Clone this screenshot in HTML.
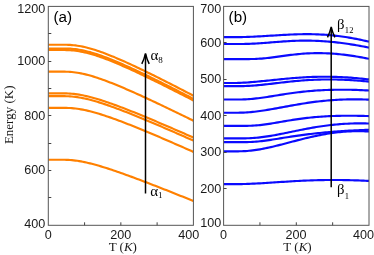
<!DOCTYPE html><html><head><meta charset="utf-8"><style>html,body{margin:0;padding:0;background:#fff}svg{display:block;will-change:transform;opacity:0.999}</style></head><body><svg width="374" height="255" viewBox="0 0 374 255">
<rect width="374" height="255" fill="#fff"/>
<defs><clipPath id="cl"><rect x="48.3" y="6.4" width="145.10000000000002" height="218.9"/></clipPath><clipPath id="cr"><rect x="223.6" y="6.4" width="145.4" height="218.9"/></clipPath></defs>
<g fill="none" stroke="#ff8000" stroke-width="2.15" clip-path="url(#cl)">
<path d="M48.30,44.70 L50.11,44.70 L51.93,44.70 L53.74,44.70 L55.55,44.70 L57.37,44.70 L59.18,44.70 L61.00,44.70 L62.81,44.71 L64.62,44.74 L66.44,44.78 L68.25,44.84 L70.06,44.94 L71.88,45.07 L73.69,45.24 L75.51,45.44 L77.32,45.69 L79.13,45.97 L80.95,46.30 L82.76,46.66 L84.58,47.06 L86.39,47.49 L88.20,47.95 L90.02,48.45 L91.83,48.97 L93.64,49.52 L95.46,50.09 L97.27,50.69 L99.09,51.31 L100.90,51.94 L102.71,52.60 L104.53,53.28 L106.34,53.97 L108.15,54.67 L109.97,55.39 L111.78,56.13 L113.59,56.87 L115.41,57.63 L117.22,58.40 L119.04,59.18 L120.85,59.97 L122.66,60.77 L124.48,61.58 L126.29,62.39 L128.11,63.21 L129.92,64.05 L131.73,64.88 L133.55,65.73 L135.36,66.57 L137.17,67.43 L138.99,68.29 L140.80,69.16 L142.62,70.03 L144.43,70.90 L146.24,71.78 L148.06,72.67 L149.87,73.55 L151.68,74.45 L153.50,75.34 L155.31,76.24 L157.12,77.14 L158.94,78.05 L160.75,78.96 L162.57,79.87 L164.38,80.78 L166.19,81.70 L168.01,82.62 L169.82,83.54 L171.63,84.46 L173.45,85.39 L175.26,86.32 L177.08,87.25 L178.89,88.18 L180.70,89.11 L182.52,90.05 L184.33,90.99 L186.15,91.93 L187.96,92.87 L189.77,93.81 L191.59,94.75 L193.40,95.70"/>
<path d="M48.30,48.45 L50.11,48.45 L51.93,48.45 L53.74,48.45 L55.55,48.45 L57.37,48.45 L59.18,48.45 L61.00,48.45 L62.81,48.46 L64.62,48.49 L66.44,48.53 L68.25,48.59 L70.06,48.68 L71.88,48.81 L73.69,48.98 L75.51,49.18 L77.32,49.43 L79.13,49.71 L80.95,50.03 L82.76,50.39 L84.58,50.78 L86.39,51.21 L88.20,51.67 L90.02,52.15 L91.83,52.67 L93.64,53.21 L95.46,53.78 L97.27,54.37 L99.09,54.98 L100.90,55.61 L102.71,56.26 L104.53,56.92 L106.34,57.61 L108.15,58.31 L109.97,59.02 L111.78,59.74 L113.59,60.48 L115.41,61.23 L117.22,61.99 L119.04,62.76 L120.85,63.54 L122.66,64.33 L124.48,65.13 L126.29,65.93 L128.11,66.75 L129.92,67.57 L131.73,68.39 L133.55,69.23 L135.36,70.07 L137.17,70.91 L138.99,71.76 L140.80,72.62 L142.62,73.48 L144.43,74.34 L146.24,75.21 L148.06,76.09 L149.87,76.96 L151.68,77.85 L153.50,78.73 L155.31,79.62 L157.12,80.51 L158.94,81.40 L160.75,82.30 L162.57,83.20 L164.38,84.11 L166.19,85.01 L168.01,85.92 L169.82,86.83 L171.63,87.74 L173.45,88.66 L175.26,89.58 L177.08,90.50 L178.89,91.42 L180.70,92.34 L182.52,93.27 L184.33,94.19 L186.15,95.12 L187.96,96.05 L189.77,96.98 L191.59,97.92 L193.40,98.85"/>
<path d="M48.30,50.00 L50.11,50.00 L51.93,50.00 L53.74,50.00 L55.55,50.00 L57.37,50.00 L59.18,50.00 L61.00,50.00 L62.81,50.01 L64.62,50.04 L66.44,50.08 L68.25,50.14 L70.06,50.23 L71.88,50.36 L73.69,50.53 L75.51,50.73 L77.32,50.98 L79.13,51.26 L80.95,51.58 L82.76,51.94 L84.58,52.33 L86.39,52.76 L88.20,53.22 L90.02,53.71 L91.83,54.22 L93.64,54.77 L95.46,55.33 L97.27,55.92 L99.09,56.53 L100.90,57.17 L102.71,57.82 L104.53,58.48 L106.34,59.17 L108.15,59.87 L109.97,60.58 L111.78,61.30 L113.59,62.04 L115.41,62.79 L117.22,63.55 L119.04,64.33 L120.85,65.11 L122.66,65.90 L124.48,66.69 L126.29,67.50 L128.11,68.32 L129.92,69.14 L131.73,69.96 L133.55,70.80 L135.36,71.64 L137.17,72.48 L138.99,73.34 L140.80,74.19 L142.62,75.05 L144.43,75.92 L146.24,76.79 L148.06,77.66 L149.87,78.54 L151.68,79.42 L153.50,80.31 L155.31,81.20 L157.12,82.09 L158.94,82.99 L160.75,83.89 L162.57,84.79 L164.38,85.69 L166.19,86.60 L168.01,87.51 L169.82,88.42 L171.63,89.33 L173.45,90.25 L175.26,91.17 L177.08,92.09 L178.89,93.01 L180.70,93.93 L182.52,94.86 L184.33,95.79 L186.15,96.72 L187.96,97.65 L189.77,98.58 L191.59,99.51 L193.40,100.45"/>
<path d="M48.30,71.60 L50.11,71.60 L51.93,71.60 L53.74,71.60 L55.55,71.60 L57.37,71.60 L59.18,71.60 L61.00,71.61 L62.81,71.62 L64.62,71.65 L66.44,71.70 L68.25,71.78 L70.06,71.89 L71.88,72.04 L73.69,72.23 L75.51,72.46 L77.32,72.72 L79.13,73.03 L80.95,73.37 L82.76,73.75 L84.58,74.16 L86.39,74.60 L88.20,75.07 L90.02,75.57 L91.83,76.09 L93.64,76.64 L95.46,77.21 L97.27,77.80 L99.09,78.41 L100.90,79.04 L102.71,79.68 L104.53,80.34 L106.34,81.02 L108.15,81.71 L109.97,82.41 L111.78,83.12 L113.59,83.84 L115.41,84.57 L117.22,85.31 L119.04,86.06 L120.85,86.82 L122.66,87.59 L124.48,88.36 L126.29,89.14 L128.11,89.93 L129.92,90.73 L131.73,91.52 L133.55,92.33 L135.36,93.14 L137.17,93.95 L138.99,94.77 L140.80,95.60 L142.62,96.43 L144.43,97.26 L146.24,98.09 L148.06,98.93 L149.87,99.78 L151.68,100.62 L153.50,101.47 L155.31,102.32 L157.12,103.18 L158.94,104.03 L160.75,104.89 L162.57,105.76 L164.38,106.62 L166.19,107.49 L168.01,108.36 L169.82,109.23 L171.63,110.10 L173.45,110.97 L175.26,111.85 L177.08,112.73 L178.89,113.61 L180.70,114.49 L182.52,115.37 L184.33,116.26 L186.15,117.14 L187.96,118.03 L189.77,118.92 L191.59,119.81 L193.40,120.70"/>
<path d="M48.30,93.30 L50.11,93.30 L51.93,93.30 L53.74,93.30 L55.55,93.30 L57.37,93.30 L59.18,93.30 L61.00,93.31 L62.81,93.32 L64.62,93.35 L66.44,93.40 L68.25,93.47 L70.06,93.58 L71.88,93.72 L73.69,93.90 L75.51,94.11 L77.32,94.36 L79.13,94.64 L80.95,94.95 L82.76,95.30 L84.58,95.68 L86.39,96.08 L88.20,96.51 L90.02,96.97 L91.83,97.44 L93.64,97.94 L95.46,98.46 L97.27,99.00 L99.09,99.55 L100.90,100.12 L102.71,100.71 L104.53,101.30 L106.34,101.91 L108.15,102.53 L109.97,103.17 L111.78,103.81 L113.59,104.46 L115.41,105.12 L117.22,105.79 L119.04,106.47 L120.85,107.15 L122.66,107.84 L124.48,108.54 L126.29,109.25 L128.11,109.95 L129.92,110.67 L131.73,111.39 L133.55,112.11 L135.36,112.84 L137.17,113.58 L138.99,114.31 L140.80,115.05 L142.62,115.80 L144.43,116.55 L146.24,117.30 L148.06,118.05 L149.87,118.81 L151.68,119.57 L153.50,120.33 L155.31,121.10 L157.12,121.87 L158.94,122.64 L160.75,123.41 L162.57,124.18 L164.38,124.96 L166.19,125.74 L168.01,126.52 L169.82,127.30 L171.63,128.08 L173.45,128.87 L175.26,129.66 L177.08,130.45 L178.89,131.24 L180.70,132.03 L182.52,132.82 L184.33,133.61 L186.15,134.41 L187.96,135.20 L189.77,136.00 L191.59,136.80 L193.40,137.60"/>
<path d="M48.30,96.10 L50.11,96.10 L51.93,96.10 L53.74,96.10 L55.55,96.10 L57.37,96.10 L59.18,96.10 L61.00,96.11 L62.81,96.12 L64.62,96.15 L66.44,96.20 L68.25,96.27 L70.06,96.38 L71.88,96.52 L73.69,96.70 L75.51,96.91 L77.32,97.16 L79.13,97.44 L80.95,97.76 L82.76,98.11 L84.58,98.49 L86.39,98.89 L88.20,99.33 L90.02,99.78 L91.83,100.26 L93.64,100.76 L95.46,101.29 L97.27,101.82 L99.09,102.38 L100.90,102.95 L102.71,103.54 L104.53,104.14 L106.34,104.75 L108.15,105.38 L109.97,106.01 L111.78,106.66 L113.59,107.31 L115.41,107.98 L117.22,108.65 L119.04,109.33 L120.85,110.02 L122.66,110.71 L124.48,111.41 L126.29,112.12 L128.11,112.83 L129.92,113.55 L131.73,114.27 L133.55,115.00 L135.36,115.73 L137.17,116.47 L138.99,117.21 L140.80,117.95 L142.62,118.70 L144.43,119.45 L146.24,120.21 L148.06,120.96 L149.87,121.73 L151.68,122.49 L153.50,123.26 L155.31,124.02 L157.12,124.80 L158.94,125.57 L160.75,126.35 L162.57,127.12 L164.38,127.90 L166.19,128.68 L168.01,129.47 L169.82,130.25 L171.63,131.04 L173.45,131.83 L175.26,132.62 L177.08,133.41 L178.89,134.21 L180.70,135.00 L182.52,135.80 L184.33,136.60 L186.15,137.39 L187.96,138.19 L189.77,138.99 L191.59,139.80 L193.40,140.60"/>
<path d="M48.30,107.80 L50.11,107.80 L51.93,107.80 L53.74,107.80 L55.55,107.80 L57.37,107.80 L59.18,107.80 L61.00,107.81 L62.81,107.82 L64.62,107.84 L66.44,107.88 L68.25,107.95 L70.06,108.05 L71.88,108.18 L73.69,108.34 L75.51,108.54 L77.32,108.77 L79.13,109.03 L80.95,109.34 L82.76,109.67 L84.58,110.03 L86.39,110.42 L88.20,110.84 L90.02,111.28 L91.83,111.75 L93.64,112.24 L95.46,112.74 L97.27,113.27 L99.09,113.82 L100.90,114.38 L102.71,114.95 L104.53,115.54 L106.34,116.15 L108.15,116.76 L109.97,117.39 L111.78,118.03 L113.59,118.67 L115.41,119.33 L117.22,120.00 L119.04,120.67 L120.85,121.35 L122.66,122.04 L124.48,122.74 L126.29,123.44 L128.11,124.15 L129.92,124.86 L131.73,125.58 L133.55,126.31 L135.36,127.04 L137.17,127.77 L138.99,128.51 L140.80,129.25 L142.62,130.00 L144.43,130.75 L146.24,131.50 L148.06,132.26 L149.87,133.02 L151.68,133.78 L153.50,134.54 L155.31,135.31 L157.12,136.08 L158.94,136.86 L160.75,137.63 L162.57,138.41 L164.38,139.19 L166.19,139.97 L168.01,140.76 L169.82,141.54 L171.63,142.33 L173.45,143.12 L175.26,143.91 L177.08,144.70 L178.89,145.50 L180.70,146.29 L182.52,147.09 L184.33,147.89 L186.15,148.69 L187.96,149.49 L189.77,150.29 L191.59,151.10 L193.40,151.90"/>
<path d="M48.30,159.70 L50.11,159.70 L51.93,159.70 L53.74,159.70 L55.55,159.70 L57.37,159.70 L59.18,159.70 L61.00,159.71 L62.81,159.73 L64.62,159.76 L66.44,159.81 L68.25,159.90 L70.06,160.01 L71.88,160.16 L73.69,160.34 L75.51,160.56 L77.32,160.81 L79.13,161.09 L80.95,161.41 L82.76,161.75 L84.58,162.12 L86.39,162.51 L88.20,162.93 L90.02,163.37 L91.83,163.83 L93.64,164.30 L95.46,164.80 L97.27,165.31 L99.09,165.83 L100.90,166.37 L102.71,166.92 L104.53,167.48 L106.34,168.06 L108.15,168.64 L109.97,169.23 L111.78,169.83 L113.59,170.44 L115.41,171.06 L117.22,171.68 L119.04,172.31 L120.85,172.95 L122.66,173.59 L124.48,174.24 L126.29,174.89 L128.11,175.55 L129.92,176.21 L131.73,176.88 L133.55,177.55 L135.36,178.22 L137.17,178.90 L138.99,179.58 L140.80,180.27 L142.62,180.96 L144.43,181.65 L146.24,182.34 L148.06,183.03 L149.87,183.73 L151.68,184.43 L153.50,185.14 L155.31,185.84 L157.12,186.55 L158.94,187.26 L160.75,187.97 L162.57,188.68 L164.38,189.39 L166.19,190.11 L168.01,190.83 L169.82,191.55 L171.63,192.27 L173.45,192.99 L175.26,193.71 L177.08,194.43 L178.89,195.16 L180.70,195.89 L182.52,196.61 L184.33,197.34 L186.15,198.07 L187.96,198.80 L189.77,199.53 L191.59,200.27 L193.40,201.00"/>
</g>
<g fill="none" stroke="#0a0aff" stroke-width="2.15" clip-path="url(#cr)">
<path d="M223.60,37.14 L225.42,37.14 L227.23,37.14 L229.05,37.14 L230.87,37.14 L232.69,37.14 L234.50,37.14 L236.32,37.13 L238.14,37.11 L239.96,37.09 L241.78,37.06 L243.59,37.02 L245.41,36.97 L247.23,36.92 L249.04,36.85 L250.86,36.78 L252.68,36.70 L254.50,36.62 L256.31,36.53 L258.13,36.43 L259.95,36.34 L261.77,36.23 L263.58,36.13 L265.40,36.02 L267.22,35.91 L269.04,35.80 L270.86,35.68 L272.67,35.57 L274.49,35.46 L276.31,35.34 L278.12,35.23 L279.94,35.12 L281.76,35.01 L283.58,34.91 L285.39,34.81 L287.21,34.72 L289.03,34.63 L290.85,34.54 L292.66,34.47 L294.48,34.40 L296.30,34.34 L298.12,34.28 L299.94,34.24 L301.75,34.20 L303.57,34.18 L305.39,34.17 L307.20,34.16 L309.02,34.17 L310.84,34.19 L312.66,34.22 L314.48,34.27 L316.29,34.32 L318.11,34.39 L319.93,34.47 L321.75,34.57 L323.56,34.68 L325.38,34.80 L327.20,34.94 L329.01,35.08 L330.83,35.25 L332.65,35.42 L334.47,35.61 L336.29,35.81 L338.10,36.03 L339.92,36.26 L341.74,36.50 L343.56,36.76 L345.37,37.03 L347.19,37.31 L349.01,37.61 L350.82,37.92 L352.64,38.24 L354.46,38.57 L356.28,38.92 L358.10,39.28 L359.91,39.65 L361.73,40.04 L363.55,40.43 L365.37,40.84 L367.18,41.26 L369.00,41.69"/>
<path d="M223.60,44.02 L225.42,44.02 L227.23,44.02 L229.05,44.02 L230.87,44.02 L232.69,44.02 L234.50,44.02 L236.32,44.01 L238.14,44.01 L239.96,44.00 L241.78,43.99 L243.59,43.96 L245.41,43.93 L247.23,43.89 L249.04,43.83 L250.86,43.77 L252.68,43.69 L254.50,43.60 L256.31,43.50 L258.13,43.39 L259.95,43.27 L261.77,43.14 L263.58,43.01 L265.40,42.87 L267.22,42.73 L269.04,42.58 L270.86,42.43 L272.67,42.28 L274.49,42.13 L276.31,41.98 L278.12,41.84 L279.94,41.70 L281.76,41.56 L283.58,41.44 L285.39,41.31 L287.21,41.20 L289.03,41.09 L290.85,41.00 L292.66,40.91 L294.48,40.83 L296.30,40.77 L298.12,40.71 L299.94,40.67 L301.75,40.64 L303.57,40.62 L305.39,40.61 L307.20,40.61 L309.02,40.63 L310.84,40.66 L312.66,40.70 L314.48,40.76 L316.29,40.83 L318.11,40.91 L319.93,41.00 L321.75,41.10 L323.56,41.22 L325.38,41.35 L327.20,41.49 L329.01,41.64 L330.83,41.81 L332.65,41.99 L334.47,42.17 L336.29,42.37 L338.10,42.58 L339.92,42.80 L341.74,43.03 L343.56,43.27 L345.37,43.53 L347.19,43.79 L349.01,44.06 L350.82,44.34 L352.64,44.63 L354.46,44.93 L356.28,45.24 L358.10,45.56 L359.91,45.88 L361.73,46.22 L363.55,46.56 L365.37,46.91 L367.18,47.27 L369.00,47.64"/>
<path d="M223.60,59.10 L225.42,59.10 L227.23,59.10 L229.05,59.10 L230.87,59.10 L232.69,59.10 L234.50,59.10 L236.32,59.10 L238.14,59.10 L239.96,59.10 L241.78,59.10 L243.59,59.10 L245.41,59.09 L247.23,59.08 L249.04,59.07 L250.86,59.04 L252.68,59.01 L254.50,58.96 L256.31,58.89 L258.13,58.80 L259.95,58.69 L261.77,58.56 L263.58,58.41 L265.40,58.24 L267.22,58.05 L269.04,57.85 L270.86,57.63 L272.67,57.40 L274.49,57.16 L276.31,56.91 L278.12,56.66 L279.94,56.41 L281.76,56.15 L283.58,55.90 L285.39,55.65 L287.21,55.40 L289.03,55.16 L290.85,54.93 L292.66,54.71 L294.48,54.51 L296.30,54.31 L298.12,54.13 L299.94,53.96 L301.75,53.80 L303.57,53.66 L305.39,53.54 L307.20,53.43 L309.02,53.34 L310.84,53.27 L312.66,53.21 L314.48,53.17 L316.29,53.14 L318.11,53.13 L319.93,53.14 L321.75,53.17 L323.56,53.21 L325.38,53.26 L327.20,53.34 L329.01,53.42 L330.83,53.53 L332.65,53.65 L334.47,53.78 L336.29,53.93 L338.10,54.09 L339.92,54.27 L341.74,54.46 L343.56,54.67 L345.37,54.88 L347.19,55.12 L349.01,55.36 L350.82,55.62 L352.64,55.88 L354.46,56.17 L356.28,56.46 L358.10,56.76 L359.91,57.08 L361.73,57.40 L363.55,57.74 L365.37,58.09 L367.18,58.44 L369.00,58.81"/>
<path d="M223.60,83.02 L225.42,83.02 L227.23,83.02 L229.05,83.02 L230.87,83.02 L232.69,83.02 L234.50,83.00 L236.32,82.97 L238.14,82.92 L239.96,82.86 L241.78,82.78 L243.59,82.68 L245.41,82.57 L247.23,82.45 L249.04,82.32 L250.86,82.18 L252.68,82.03 L254.50,81.87 L256.31,81.70 L258.13,81.54 L259.95,81.36 L261.77,81.18 L263.58,81.00 L265.40,80.82 L267.22,80.64 L269.04,80.45 L270.86,80.26 L272.67,80.07 L274.49,79.88 L276.31,79.70 L278.12,79.51 L279.94,79.33 L281.76,79.14 L283.58,78.97 L285.39,78.79 L287.21,78.62 L289.03,78.46 L290.85,78.30 L292.66,78.14 L294.48,77.99 L296.30,77.85 L298.12,77.72 L299.94,77.59 L301.75,77.47 L303.57,77.36 L305.39,77.26 L307.20,77.16 L309.02,77.08 L310.84,77.00 L312.66,76.93 L314.48,76.87 L316.29,76.82 L318.11,76.78 L319.93,76.75 L321.75,76.73 L323.56,76.72 L325.38,76.72 L327.20,76.73 L329.01,76.75 L330.83,76.77 L332.65,76.81 L334.47,76.86 L336.29,76.91 L338.10,76.98 L339.92,77.05 L341.74,77.13 L343.56,77.23 L345.37,77.33 L347.19,77.44 L349.01,77.56 L350.82,77.68 L352.64,77.82 L354.46,77.96 L356.28,78.12 L358.10,78.28 L359.91,78.45 L361.73,78.62 L363.55,78.81 L365.37,79.00 L367.18,79.20 L369.00,79.41"/>
<path d="M223.60,86.17 L225.42,86.17 L227.23,86.17 L229.05,86.17 L230.87,86.17 L232.69,86.17 L234.50,86.17 L236.32,86.17 L238.14,86.16 L239.96,86.14 L241.78,86.10 L243.59,86.06 L245.41,85.99 L247.23,85.92 L249.04,85.83 L250.86,85.72 L252.68,85.60 L254.50,85.46 L256.31,85.31 L258.13,85.16 L259.95,84.99 L261.77,84.81 L263.58,84.62 L265.40,84.43 L267.22,84.23 L269.04,84.03 L270.86,83.82 L272.67,83.61 L274.49,83.40 L276.31,83.18 L278.12,82.97 L279.94,82.76 L281.76,82.55 L283.58,82.34 L285.39,82.14 L287.21,81.94 L289.03,81.74 L290.85,81.55 L292.66,81.36 L294.48,81.19 L296.30,81.02 L298.12,80.85 L299.94,80.70 L301.75,80.55 L303.57,80.41 L305.39,80.28 L307.20,80.16 L309.02,80.05 L310.84,79.95 L312.66,79.85 L314.48,79.77 L316.29,79.70 L318.11,79.63 L319.93,79.58 L321.75,79.54 L323.56,79.50 L325.38,79.48 L327.20,79.46 L329.01,79.46 L330.83,79.46 L332.65,79.48 L334.47,79.50 L336.29,79.53 L338.10,79.58 L339.92,79.63 L341.74,79.69 L343.56,79.76 L345.37,79.83 L347.19,79.92 L349.01,80.01 L350.82,80.12 L352.64,80.23 L354.46,80.35 L356.28,80.48 L358.10,80.61 L359.91,80.76 L361.73,80.91 L363.55,81.06 L365.37,81.23 L367.18,81.40 L369.00,81.58"/>
<path d="M223.60,99.53 L225.42,99.53 L227.23,99.53 L229.05,99.53 L230.87,99.53 L232.69,99.53 L234.50,99.53 L236.32,99.53 L238.14,99.52 L239.96,99.50 L241.78,99.46 L243.59,99.41 L245.41,99.33 L247.23,99.24 L249.04,99.12 L250.86,98.98 L252.68,98.82 L254.50,98.64 L256.31,98.44 L258.13,98.23 L259.95,98.00 L261.77,97.75 L263.58,97.49 L265.40,97.23 L267.22,96.95 L269.04,96.67 L270.86,96.38 L272.67,96.09 L274.49,95.80 L276.31,95.50 L278.12,95.21 L279.94,94.92 L281.76,94.63 L283.58,94.34 L285.39,94.06 L287.21,93.79 L289.03,93.52 L290.85,93.26 L292.66,93.01 L294.48,92.76 L296.30,92.52 L298.12,92.30 L299.94,92.08 L301.75,91.87 L303.57,91.67 L305.39,91.48 L307.20,91.30 L309.02,91.13 L310.84,90.97 L312.66,90.82 L314.48,90.68 L316.29,90.55 L318.11,90.43 L319.93,90.32 L321.75,90.22 L323.56,90.12 L325.38,90.04 L327.20,89.97 L329.01,89.91 L330.83,89.85 L332.65,89.81 L334.47,89.77 L336.29,89.74 L338.10,89.72 L339.92,89.71 L341.74,89.70 L343.56,89.71 L345.37,89.72 L347.19,89.74 L349.01,89.76 L350.82,89.80 L352.64,89.84 L354.46,89.89 L356.28,89.94 L358.10,90.00 L359.91,90.07 L361.73,90.14 L363.55,90.22 L365.37,90.31 L367.18,90.40 L369.00,90.50"/>
<path d="M223.60,112.73 L225.42,112.73 L227.23,112.73 L229.05,112.73 L230.87,112.73 L232.69,112.73 L234.50,112.73 L236.32,112.72 L238.14,112.71 L239.96,112.68 L241.78,112.63 L243.59,112.56 L245.41,112.47 L247.23,112.36 L249.04,112.23 L250.86,112.07 L252.68,111.90 L254.50,111.70 L256.31,111.49 L258.13,111.26 L259.95,111.01 L261.77,110.75 L263.58,110.48 L265.40,110.20 L267.22,109.90 L269.04,109.60 L270.86,109.29 L272.67,108.97 L274.49,108.65 L276.31,108.32 L278.12,107.99 L279.94,107.66 L281.76,107.32 L283.58,106.99 L285.39,106.65 L287.21,106.32 L289.03,105.99 L290.85,105.66 L292.66,105.33 L294.48,105.01 L296.30,104.69 L298.12,104.38 L299.94,104.08 L301.75,103.78 L303.57,103.49 L305.39,103.20 L307.20,102.93 L309.02,102.66 L310.84,102.41 L312.66,102.16 L314.48,101.92 L316.29,101.69 L318.11,101.47 L319.93,101.27 L321.75,101.07 L323.56,100.88 L325.38,100.70 L327.20,100.54 L329.01,100.38 L330.83,100.24 L332.65,100.11 L334.47,99.98 L336.29,99.87 L338.10,99.77 L339.92,99.68 L341.74,99.60 L343.56,99.53 L345.37,99.48 L347.19,99.43 L349.01,99.39 L350.82,99.37 L352.64,99.35 L354.46,99.34 L356.28,99.35 L358.10,99.36 L359.91,99.39 L361.73,99.42 L363.55,99.46 L365.37,99.51 L367.18,99.57 L369.00,99.65"/>
<path d="M223.60,125.88 L225.42,125.88 L227.23,125.88 L229.05,125.88 L230.87,125.88 L232.69,125.88 L234.50,125.88 L236.32,125.88 L238.14,125.88 L239.96,125.88 L241.78,125.88 L243.59,125.87 L245.41,125.86 L247.23,125.83 L249.04,125.79 L250.86,125.73 L252.68,125.65 L254.50,125.54 L256.31,125.41 L258.13,125.26 L259.95,125.08 L261.77,124.88 L263.58,124.66 L265.40,124.41 L267.22,124.15 L269.04,123.88 L270.86,123.59 L272.67,123.29 L274.49,122.99 L276.31,122.68 L278.12,122.36 L279.94,122.04 L281.76,121.73 L283.58,121.41 L285.39,121.10 L287.21,120.79 L289.03,120.49 L290.85,120.20 L292.66,119.91 L294.48,119.63 L296.30,119.36 L298.12,119.09 L299.94,118.84 L301.75,118.60 L303.57,118.37 L305.39,118.14 L307.20,117.93 L309.02,117.73 L310.84,117.54 L312.66,117.35 L314.48,117.18 L316.29,117.02 L318.11,116.87 L319.93,116.73 L321.75,116.60 L323.56,116.48 L325.38,116.37 L327.20,116.27 L329.01,116.18 L330.83,116.09 L332.65,116.02 L334.47,115.95 L336.29,115.89 L338.10,115.85 L339.92,115.81 L341.74,115.77 L343.56,115.75 L345.37,115.73 L347.19,115.72 L349.01,115.72 L350.82,115.72 L352.64,115.73 L354.46,115.75 L356.28,115.77 L358.10,115.81 L359.91,115.84 L361.73,115.88 L363.55,115.93 L365.37,115.99 L367.18,116.05 L369.00,116.11"/>
<path d="M223.60,138.44 L225.42,138.44 L227.23,138.44 L229.05,138.44 L230.87,138.44 L232.69,138.44 L234.50,138.44 L236.32,138.44 L238.14,138.44 L239.96,138.43 L241.78,138.42 L243.59,138.39 L245.41,138.36 L247.23,138.30 L249.04,138.23 L250.86,138.14 L252.68,138.03 L254.50,137.90 L256.31,137.74 L258.13,137.57 L259.95,137.37 L261.77,137.16 L263.58,136.92 L265.40,136.67 L267.22,136.40 L269.04,136.12 L270.86,135.82 L272.67,135.51 L274.49,135.19 L276.31,134.85 L278.12,134.51 L279.94,134.16 L281.76,133.80 L283.58,133.43 L285.39,133.06 L287.21,132.69 L289.03,132.31 L290.85,131.94 L292.66,131.56 L294.48,131.19 L296.30,130.81 L298.12,130.44 L299.94,130.07 L301.75,129.71 L303.57,129.35 L305.39,129.00 L307.20,128.66 L309.02,128.32 L310.84,127.99 L312.66,127.67 L314.48,127.36 L316.29,127.06 L318.11,126.77 L319.93,126.49 L321.75,126.22 L323.56,125.96 L325.38,125.71 L327.20,125.47 L329.01,125.25 L330.83,125.04 L332.65,124.84 L334.47,124.65 L336.29,124.48 L338.10,124.32 L339.92,124.17 L341.74,124.03 L343.56,123.91 L345.37,123.80 L347.19,123.70 L349.01,123.62 L350.82,123.54 L352.64,123.49 L354.46,123.44 L356.28,123.40 L358.10,123.38 L359.91,123.37 L361.73,123.38 L363.55,123.39 L365.37,123.42 L367.18,123.46 L369.00,123.51"/>
<path d="M223.60,142.16 L225.42,142.16 L227.23,142.16 L229.05,142.16 L230.87,142.16 L232.69,142.16 L234.50,142.16 L236.32,142.16 L238.14,142.16 L239.96,142.16 L241.78,142.15 L243.59,142.14 L245.41,142.12 L247.23,142.08 L249.04,142.03 L250.86,141.96 L252.68,141.86 L254.50,141.75 L256.31,141.61 L258.13,141.45 L259.95,141.27 L261.77,141.07 L263.58,140.85 L265.40,140.61 L267.22,140.37 L269.04,140.11 L270.86,139.83 L272.67,139.56 L274.49,139.27 L276.31,138.98 L278.12,138.69 L279.94,138.40 L281.76,138.11 L283.58,137.81 L285.39,137.52 L287.21,137.24 L289.03,136.95 L290.85,136.67 L292.66,136.40 L294.48,136.13 L296.30,135.86 L298.12,135.60 L299.94,135.35 L301.75,135.10 L303.57,134.86 L305.39,134.62 L307.20,134.39 L309.02,134.17 L310.84,133.95 L312.66,133.74 L314.48,133.53 L316.29,133.34 L318.11,133.14 L319.93,132.96 L321.75,132.77 L323.56,132.60 L325.38,132.43 L327.20,132.27 L329.01,132.11 L330.83,131.95 L332.65,131.80 L334.47,131.66 L336.29,131.52 L338.10,131.39 L339.92,131.26 L341.74,131.14 L343.56,131.02 L345.37,130.90 L347.19,130.79 L349.01,130.68 L350.82,130.58 L352.64,130.48 L354.46,130.38 L356.28,130.29 L358.10,130.20 L359.91,130.12 L361.73,130.04 L363.55,129.96 L365.37,129.89 L367.18,129.81 L369.00,129.75"/>
<path d="M223.60,151.34 L225.42,151.34 L227.23,151.34 L229.05,151.34 L230.87,151.34 L232.69,151.34 L234.50,151.33 L236.32,151.33 L238.14,151.32 L239.96,151.29 L241.78,151.24 L243.59,151.17 L245.41,151.08 L247.23,150.95 L249.04,150.80 L250.86,150.62 L252.68,150.41 L254.50,150.18 L256.31,149.92 L258.13,149.64 L259.95,149.33 L261.77,149.00 L263.58,148.66 L265.40,148.29 L267.22,147.91 L269.04,147.52 L270.86,147.11 L272.67,146.69 L274.49,146.26 L276.31,145.81 L278.12,145.36 L279.94,144.91 L281.76,144.44 L283.58,143.97 L285.39,143.50 L287.21,143.02 L289.03,142.54 L290.85,142.06 L292.66,141.58 L294.48,141.11 L296.30,140.63 L298.12,140.16 L299.94,139.69 L301.75,139.23 L303.57,138.77 L305.39,138.33 L307.20,137.89 L309.02,137.45 L310.84,137.03 L312.66,136.62 L314.48,136.22 L316.29,135.83 L318.11,135.46 L319.93,135.09 L321.75,134.75 L323.56,134.41 L325.38,134.09 L327.20,133.79 L329.01,133.50 L330.83,133.23 L332.65,132.97 L334.47,132.73 L336.29,132.51 L338.10,132.30 L339.92,132.12 L341.74,131.95 L343.56,131.79 L345.37,131.66 L347.19,131.54 L349.01,131.44 L350.82,131.36 L352.64,131.30 L354.46,131.25 L356.28,131.23 L358.10,131.22 L359.91,131.23 L361.73,131.26 L363.55,131.30 L365.37,131.36 L367.18,131.45 L369.00,131.54"/>
<path d="M223.60,184.14 L225.42,184.14 L227.23,184.14 L229.05,184.14 L230.87,184.14 L232.69,184.13 L234.50,184.13 L236.32,184.12 L238.14,184.11 L239.96,184.09 L241.78,184.06 L243.59,184.02 L245.41,183.97 L247.23,183.91 L249.04,183.84 L250.86,183.77 L252.68,183.69 L254.50,183.60 L256.31,183.51 L258.13,183.42 L259.95,183.31 L261.77,183.21 L263.58,183.10 L265.40,182.99 L267.22,182.88 L269.04,182.76 L270.86,182.64 L272.67,182.53 L274.49,182.41 L276.31,182.29 L278.12,182.17 L279.94,182.05 L281.76,181.93 L283.58,181.81 L285.39,181.70 L287.21,181.58 L289.03,181.47 L290.85,181.36 L292.66,181.26 L294.48,181.15 L296.30,181.05 L298.12,180.95 L299.94,180.86 L301.75,180.77 L303.57,180.69 L305.39,180.61 L307.20,180.53 L309.02,180.46 L310.84,180.39 L312.66,180.33 L314.48,180.28 L316.29,180.22 L318.11,180.18 L319.93,180.14 L321.75,180.10 L323.56,180.07 L325.38,180.04 L327.20,180.02 L329.01,180.00 L330.83,179.99 L332.65,179.99 L334.47,179.99 L336.29,179.99 L338.10,180.00 L339.92,180.02 L341.74,180.04 L343.56,180.06 L345.37,180.09 L347.19,180.13 L349.01,180.17 L350.82,180.21 L352.64,180.26 L354.46,180.31 L356.28,180.37 L358.10,180.43 L359.91,180.50 L361.73,180.57 L363.55,180.65 L365.37,180.73 L367.18,180.81 L369.00,180.90"/>
</g>
<rect x="48.3" y="6.4" width="145.10000000000002" height="218.9" fill="none" stroke="#555" stroke-width="1"/>
<rect x="223.6" y="6.4" width="145.4" height="218.9" fill="none" stroke="#555" stroke-width="1"/>
<g stroke="#444" stroke-width="1">
<line x1="48.3" x2="51.3" y1="197.50" y2="197.50"/>
<line x1="48.3" x2="51.3" y1="170.50" y2="170.50"/>
<line x1="48.3" x2="51.3" y1="143.50" y2="143.50"/>
<line x1="48.3" x2="51.3" y1="115.50" y2="115.50"/>
<line x1="48.3" x2="51.3" y1="88.50" y2="88.50"/>
<line x1="48.3" x2="51.3" y1="61.50" y2="61.50"/>
<line x1="48.3" x2="51.3" y1="33.50" y2="33.50"/>
<line x1="223.6" x2="226.6" y1="188.50" y2="188.50"/>
<line x1="223.6" x2="226.6" y1="152.50" y2="152.50"/>
<line x1="223.6" x2="226.6" y1="115.50" y2="115.50"/>
<line x1="223.6" x2="226.6" y1="79.50" y2="79.50"/>
<line x1="223.6" x2="226.6" y1="42.50" y2="42.50"/>
<line x1="84.58" x2="84.58" y1="225.3" y2="222.3"/>
<line x1="120.85" x2="120.85" y1="225.3" y2="222.3"/>
<line x1="157.12" x2="157.12" y1="225.3" y2="222.3"/>
<line x1="259.95" x2="259.95" y1="225.3" y2="222.3"/>
<line x1="296.30" x2="296.30" y1="225.3" y2="222.3"/>
<line x1="332.65" x2="332.65" y1="225.3" y2="222.3"/>
</g>
<g fill="none" stroke="#000" stroke-width="1.5" stroke-linecap="butt">
<line x1="145.5" x2="145.5" y1="54.4" y2="193.5"/>
<path d="M141.8,63.9 Q144.3,58.9 145.5,53.4 Q146.7,58.9 149.2,63.9" stroke-linejoin="miter"/>
</g>
<g fill="none" stroke="#000" stroke-width="1.5" stroke-linecap="butt">
<line x1="331.2" x2="331.2" y1="27.9" y2="187.3"/>
<path d="M327.5,37.4 Q330.0,32.4 331.2,26.9 Q332.4,32.4 334.9,37.4" stroke-linejoin="miter"/>
</g>
<g font-family="Liberation Sans, sans-serif" font-size="12.6" fill="#1a1a1a">
<text x="45.2" y="227.80" text-anchor="end">400</text>
<text x="45.2" y="174.48" text-anchor="end">600</text>
<text x="45.2" y="119.75" text-anchor="end">800</text>
<text x="45.2" y="65.03" text-anchor="end">1000</text>
<text x="45.2" y="12.50" text-anchor="end">1200</text>
<text x="221.2" y="226.60" text-anchor="end">100</text>
<text x="221.2" y="192.72" text-anchor="end">200</text>
<text x="221.2" y="156.23" text-anchor="end">300</text>
<text x="221.2" y="119.75" text-anchor="end">400</text>
<text x="221.2" y="83.27" text-anchor="end">500</text>
<text x="221.2" y="46.78" text-anchor="end">600</text>
<text x="221.2" y="13.30" text-anchor="end">700</text>
<text x="48.3" y="238.8" text-anchor="middle">0</text>
<text x="120.8" y="238.8" text-anchor="middle">200</text>
<text x="199.2" y="238.8" text-anchor="end">400</text>
<text x="223.4" y="238.8" text-anchor="middle">0</text>
<text x="296" y="238.8" text-anchor="middle">200</text>
<text x="374" y="238.8" text-anchor="end">400</text>
</g>
<text x="53.5" y="21.6" font-family="Liberation Sans, sans-serif" font-size="15.2" fill="#000">(a)</text>
<text x="228.6" y="21.6" font-family="Liberation Sans, sans-serif" font-size="15.2" fill="#000">(b)</text>
<g font-family="Liberation Serif, serif" font-size="13" fill="#1a1a1a">
<text x="122.8" y="250.6" text-anchor="middle">T (<tspan font-style="italic">K</tspan>)</text>
<text x="297.5" y="250.6" text-anchor="middle">T (<tspan font-style="italic">K</tspan>)</text>
<text transform="translate(13.3,114.8) rotate(-90)" text-anchor="middle">Energy (K)</text>
</g>
<text transform="translate(150.6,60.3) scale(1.0,1)" font-family="Liberation Serif, serif" font-size="15" fill="#000">α<tspan font-size="9" dx="-0.2" dy="2.8">8</tspan></text>
<text transform="translate(150.3,195.6) scale(1.0,1)" font-family="Liberation Serif, serif" font-size="15" fill="#000">α<tspan font-size="9" dx="-0.2" dy="2.8">1</tspan></text>
<text transform="translate(336.9,29.4) scale(0.95,1)" font-family="Liberation Serif, serif" font-size="15.5" fill="#000">β<tspan font-size="9" dx="0.5" dy="3.4">12</tspan></text>
<text transform="translate(336.9,194.3) scale(0.95,1)" font-family="Liberation Serif, serif" font-size="15.5" fill="#000">β<tspan font-size="9" dx="0.5" dy="4.7">1</tspan></text>
</svg></body></html>
